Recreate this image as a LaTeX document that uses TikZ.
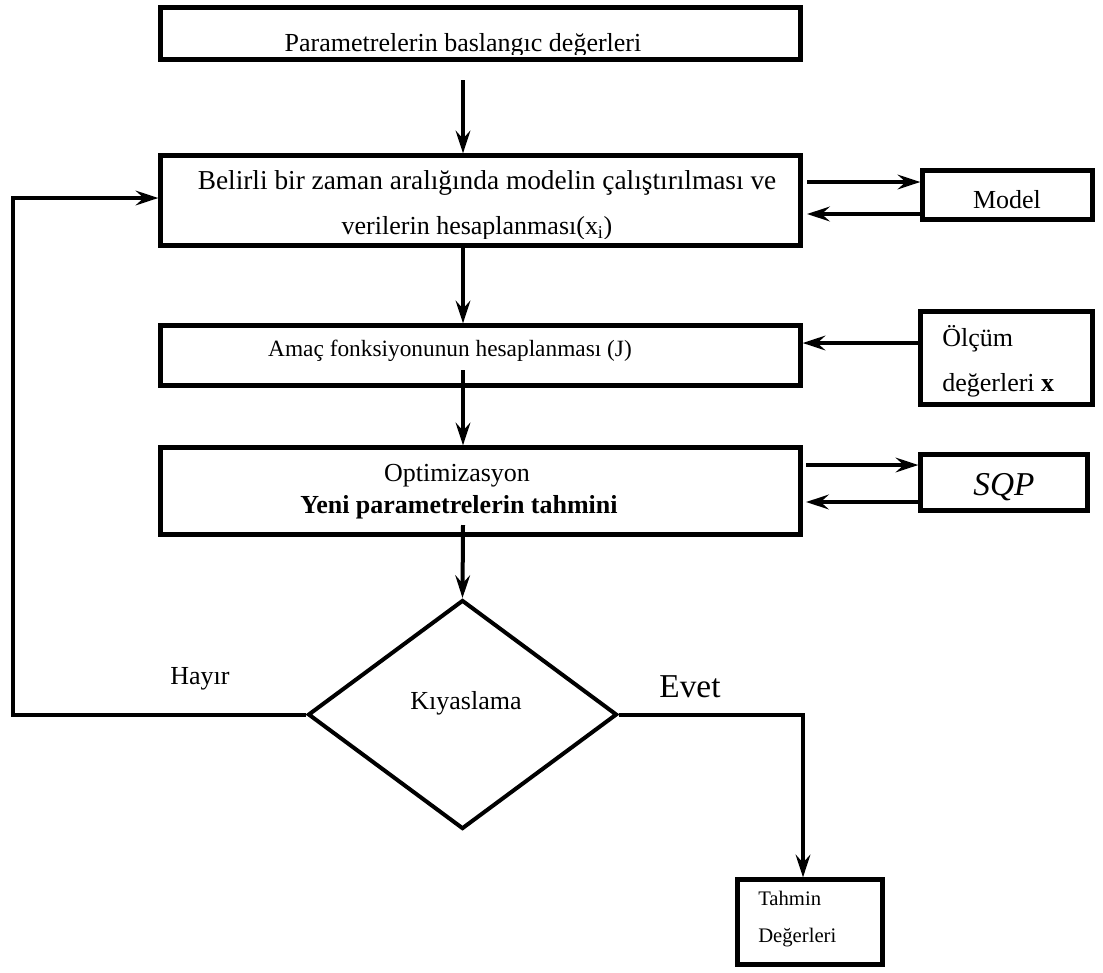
\documentclass[tikz,border=0pt]{standalone}
\usepackage{fontspec}
\setmainfont{Liberation Serif}
\usetikzlibrary{arrows.meta,shapes.geometric}
\begin{document}
\begin{tikzpicture}[x=0.75pt,y=-0.75pt,
  box/.style={draw, line width=3.2pt, rectangle, inner sep=0pt},
  lbl/.style={inner sep=0pt, anchor=base, font=\fontsize{19.5}{23}\selectfont},
  lbll/.style={lbl, anchor=base west},
  link/.style={line width=3pt},
  arr/.style={link, -{Stealth[length=17pt,width=11pt,inset=6pt]}}]
\useasboundingbox (0,0) rectangle (1103,972);

% ---- texts of the main column ----
\begin{scope}
  \clip (0,0) rectangle (1103,54);
  \node[lbl] (t1) at (463,51) {Parametrelerin baslangıc değerleri};
\end{scope}
\node[lbl, font=\fontsize{20.5}{24}\selectfont] (t2a) at (487,189) {Belirli bir zaman aralığında modelin çalıştırılması ve};
\begin{scope}
  \clip (0,0) rectangle (1103,238);
  \node[lbl] (t2b) at (477,234) {verilerin hesaplanması(x\textsubscript{i})};
\end{scope}
\node[lbl, font=\fontsize{17.5}{21}\selectfont] (t3) at (450,356) {Amaç fonksiyonunun hesaplanması (J)};
\node[lbl] (t4a) at (457,481) {Optimizasyon};
\node[lbl, font=\fontsize{19.5}{23}\selectfont\bfseries] (t4b) at (459,513) {Yeni parametrelerin tahmini};

% ---- boxes of the main column ----
\node[box, minimum width=480pt, minimum height=39pt]    (b1) at (480.5,33.5) {};
\node[box, minimum width=480pt, minimum height=67.5pt]  (b2) at (480.5,200.5) {};
\node[box, minimum width=480pt, minimum height=45pt]    (b3) at (480.5,355.5) {};
\node[box, minimum width=480pt, minimum height=65.25pt] (b4) at (480.5,491) {};

% ---- side boxes ----
\node[box, minimum width=127.5pt, minimum height=36.75pt] (model) at (1007.5,195) {};
\node[lbl] (tmodel) at (1007,208) {Model};
\node[box, minimum width=129pt, minimum height=69.75pt] (olc) at (1006.5,358) {};
\node[lbll] (tolc1) at (942,346) {Ölçüm};
\node[lbll] (tolc2) at (942,391) {değerleri \textbf{x}};
\node[box, minimum width=125.25pt, minimum height=42pt] (sqp) at (1004,482.5) {};
\node[lbl, font=\fontsize{25}{29}\selectfont\itshape] (tsqp) at (1004,495) {SQP};

% ---- decision and result ----
\node[draw, diamond, line width=3pt, inner sep=0pt, aspect=1.35,
      minimum width=231.75pt, minimum height=171.75pt] (dia) at (462.5,714.5) {};
\node[lbl] (tdia) at (466,709) {Kıyaslama};
\node[box, minimum width=108.75pt, minimum height=63.75pt] (tah) at (810,922) {};
\node[lbll, font=\fontsize{15.5}{18}\selectfont] (ttah1) at (758,905) {Tahmin};
\node[lbll, font=\fontsize{15.5}{18}\selectfont] (ttah2) at (758,942) {Değerleri};

\node[lbl] (hayir) at (200,684) {Hayır};
\node[lbl, font=\fontsize{25}{29}\selectfont] (evet) at (690,697) {Evet};

% ---- connectors ----
\coordinate (col) at (463,0);
\coordinate (s1) at (463,80);
\coordinate (s3) at (463,370);
\coordinate (s4) at (463,525);
\draw[arr] (s1) -- (col |- b2.north);
\draw[arr] (col |- b2.south) -- (col |- b3.north);
\draw[arr] (s3) -- (col |- b4.north);
\draw[arr] (s4) -- (dia.north);

\coordinate (mo) at (807,182);
\coordinate (mi) at (807,214);
\draw[arr] (mo) -- (model.west |- mo);
\draw[arr] (model.west |- mi) -- (mi);

\coordinate (oy) at (0,343);
\draw[arr] (olc.west |- oy) -- (b3.east |- oy);

\coordinate (qo) at (806,465);
\coordinate (qi) at (806,502);
\draw[arr] (qo) -- (sqp.west |- qo);
\draw[arr] (sqp.west |- qi) -- (qi);

\coordinate (lb) at (13,714.5);
\coordinate (lt) at (13,198);
\draw[arr, line join=miter] (dia.west) -- (lb) -- (lt) -- (b2.west |- lt);

\coordinate (ec) at (803,714.5);
\draw[arr, line join=miter] (dia.east) -- (ec) -- (ec |- tah.north);
\end{tikzpicture}
\end{document}
